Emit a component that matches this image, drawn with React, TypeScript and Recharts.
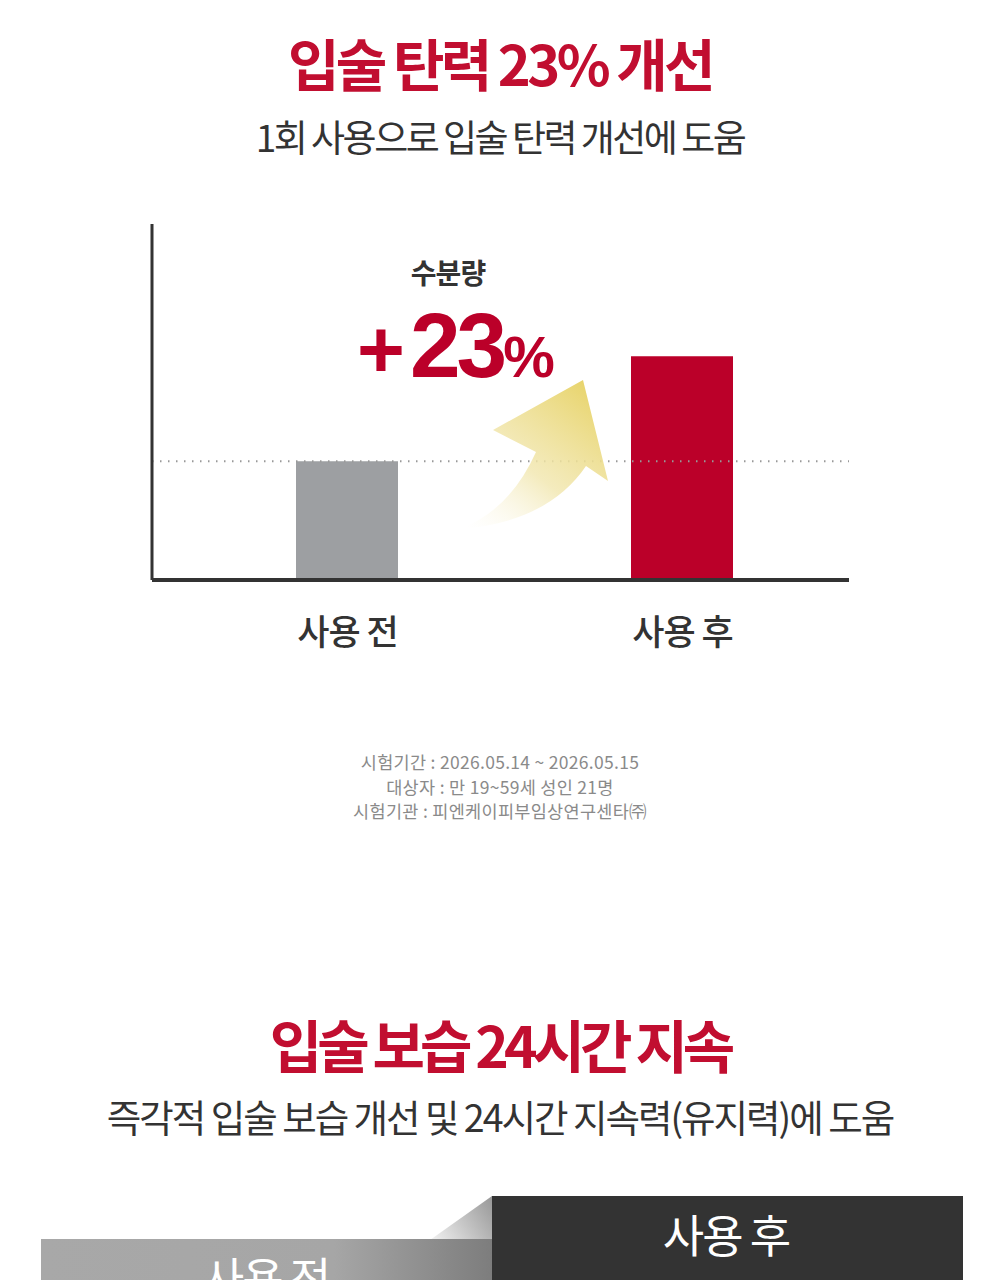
import { BarChart, Bar, XAxis, YAxis, Cell, ReferenceLine } from 'recharts'

const categories = ['사용 전', '사용 후']
const values = [100, 123]
const barColors = ['#9d9fa2', '#bb0029']
const baseline = 100

const data = categories.map((name, i) => ({ name, value: values[i] }))

const FONT = '"Noto Sans CJK KR", "Noto Sans", sans-serif'
const RED = '#c10e30'

function XTick(props: any) {
  const { x, y, payload } = props
  return (
    <text x={x + 1} y={y + 57} textAnchor="middle" fontSize={35} fontWeight={500} fill="#333" fontFamily={FONT} letterSpacing={-1}>
      {payload.value}
    </text>
  )
}

const center = (top: number, size: number, color: string, weight: number, spacing: number, text: string) => (
  <div
    style={{
      position: 'absolute', top, left: 0, width: 1000, textAlign: 'center',
      fontSize: size, color, fontWeight: weight, letterSpacing: spacing, lineHeight: 1,
      whiteSpace: 'nowrap',
    }}
  >
    {text}
  </div>
)

export default function App() {
  return (
    <div style={{ position: 'absolute', left: 0, top: 0, width: 1000, height: 1280, overflow: 'hidden', background: '#fff', fontFamily: FONT }}>
      {center(34, 56, RED, 700, -3.6, '입술 탄력 23% 개선')}
      {center(118, 37, '#333', 400, -2.5, '1회 사용으로 입술 탄력 개선에 도움')}

      <div style={{ position: 'absolute', left: 0, top: 200 }}>
        <BarChart width={1000} height={480} data={data} margin={{ top: 24, right: 151, bottom: 40, left: 150 }} barCategoryGap={0}>
          <ReferenceLine y={baseline} stroke="#999" strokeWidth={2} strokeDasharray="1.5 6.5" />
          <YAxis width={2} domain={[74, 152]} tick={false} tickLine={false} axisLine={{ stroke: '#333', strokeWidth: 3 }} />
          <XAxis
            dataKey="name"
            height={60}
            padding={{ left: 27, right: 0 }}
            tickLine={false}
            axisLine={{ stroke: '#333', strokeWidth: 4 }}
            tick={<XTick />}
            interval={0}
          />
          <Bar dataKey="value" barSize={102} isAnimationActive={false}>
            {data.map((d, i) => (
              <Cell key={d.name} fill={barColors[i]} />
            ))}
          </Bar>
        </BarChart>
      </div>

      <svg width={1000} height={1280} style={{ position: 'absolute', left: 0, top: 0, pointerEvents: 'none' }}>
        <defs>
          <linearGradient id="arrowGrad" x1="583" y1="380" x2="466" y2="527" gradientUnits="userSpaceOnUse">
            <stop offset="0" stopColor="#e8d46c" stopOpacity={1} />
            <stop offset="0.55" stopColor="#f1e6ad" stopOpacity={0.8} />
            <stop offset="1" stopColor="#fbf7e6" stopOpacity={0} />
          </linearGradient>
          <linearGradient id="wedgeGrad" x1="430" y1="1239" x2="492" y2="1200" gradientUnits="userSpaceOnUse">
            <stop offset="0" stopColor="#f2f2f2" />
            <stop offset="1" stopColor="#9a9a9a" />
          </linearGradient>
          <linearGradient id="grayGrad" x1="41" y1="0" x2="492" y2="0" gradientUnits="userSpaceOnUse">
            <stop offset="0" stopColor="#a8a8a8" />
            <stop offset="0.65" stopColor="#a6a6a6" />
            <stop offset="1" stopColor="#7d7d7d" />
          </linearGradient>
        </defs>
        <path
          d="M 460 529 Q 548 522 586 466 L 608 481 L 583 380 L 493 430 L 536 452 Q 510 510 460 529 Z"
          fill="url(#arrowGrad)"
        />
        <text x={357} y={377} fill="#bb0029" fontFamily='"Liberation Sans", Arial, sans-serif' fontWeight={700}>
          <tspan fontSize={82}>+</tspan>
          <tspan dx={5} fontSize={91} letterSpacing={-4}>23</tspan>
          <tspan dx={0} fontSize={58} letterSpacing={0}>%</tspan>
        </text>
        <path d="M 430 1240 L 492 1196 L 492 1240 Z" fill="url(#wedgeGrad)" />
        <rect x={41} y={1239} width={452} height={41} fill="url(#grayGrad)" />
        <rect x={492} y={1196} width={471} height={84} fill="#333" />
        <text x={726} y={1253} textAnchor="middle" fontSize={45} fill="#fff" fontFamily={FONT} letterSpacing={-2}>사용 후</text>
        <text x={266} y={1296} textAnchor="middle" fontSize={45} fill="#fff" fontFamily={FONT} letterSpacing={-2}>사용 전</text>
      </svg>

      <div style={{ position: 'absolute', left: 348, top: 258, width: 200, textAlign: 'center', fontSize: 28, fontWeight: 700, color: '#333', letterSpacing: -1, lineHeight: 1 }}>
        수분량
      </div>

      <div style={{ position: 'absolute', top: 750, left: 0, width: 1000, textAlign: 'center', fontSize: 17.5, color: '#8a8a8a', letterSpacing: 0.3, lineHeight: '24.5px' }}>
        <div>시험기간 : 2026.05.14 ~ 2026.05.15</div>
        <div>대상자 : 만 19~59세 성인 21명</div>
        <div>시험기관 : 피엔케이피부임상연구센타㈜</div>
      </div>

      {center(1015, 57, RED, 700, -5, '입술 보습 24시간 지속')}
      {center(1097, 37.5, '#333', 400, -2, '즉각적 입술 보습 개선 및 24시간 지속력(유지력)에 도움')}
    </div>
  )
}
